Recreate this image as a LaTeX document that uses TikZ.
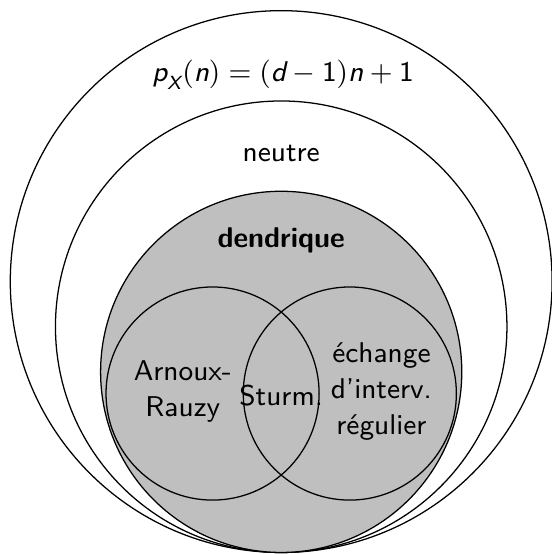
\documentclass[tikz,border=0pt]{standalone}
\usepackage{amsmath}
\newcommand\sv[1]{\text{\sffamily\itshape #1}}
\begin{document}
\begin{tikzpicture}[
  ring/.style={draw=black, line width=0.4pt},
  lbl/.style={font=\fontsize{9}{11.3}\selectfont\sffamily, align=center, inner sep=1pt}
]
\useasboundingbox (-3.114,-0.017) rectangle (2.999,6.118);
\draw[ring] (0,3) circle (3);
\draw[ring] (0,2.5) circle (2.5);
\draw[ring, fill=black!25] (0,2) circle (2);
\draw[ring] (-0.76,1.76) circle (1.18);
\draw[ring] (0.76,1.76) circle (1.18);
\node[lbl] (px) at (0.02,5.29) {$\sv{p}_{\sv{X}}\mathsf{(}\sv{n}\mathsf{)} = \mathsf{(}\sv{d} - \mathsf{1}\mathsf{)}\sv{n} + \mathsf{1}$};
\node[lbl] (neutre) at (0,4.42) {neutre};
\node[lbl] (dend) at (0,3.46) {\bfseries dendrique};
\node[lbl] (ar) at (-1.09,1.78) {Arnoux-\\Rauzy};
\node[lbl] (st) at (0,1.74) {Sturm.};
\node[lbl] (ei) at (1.11,1.78) {échange\\d'interv.\\régulier};
\end{tikzpicture}
\end{document}
